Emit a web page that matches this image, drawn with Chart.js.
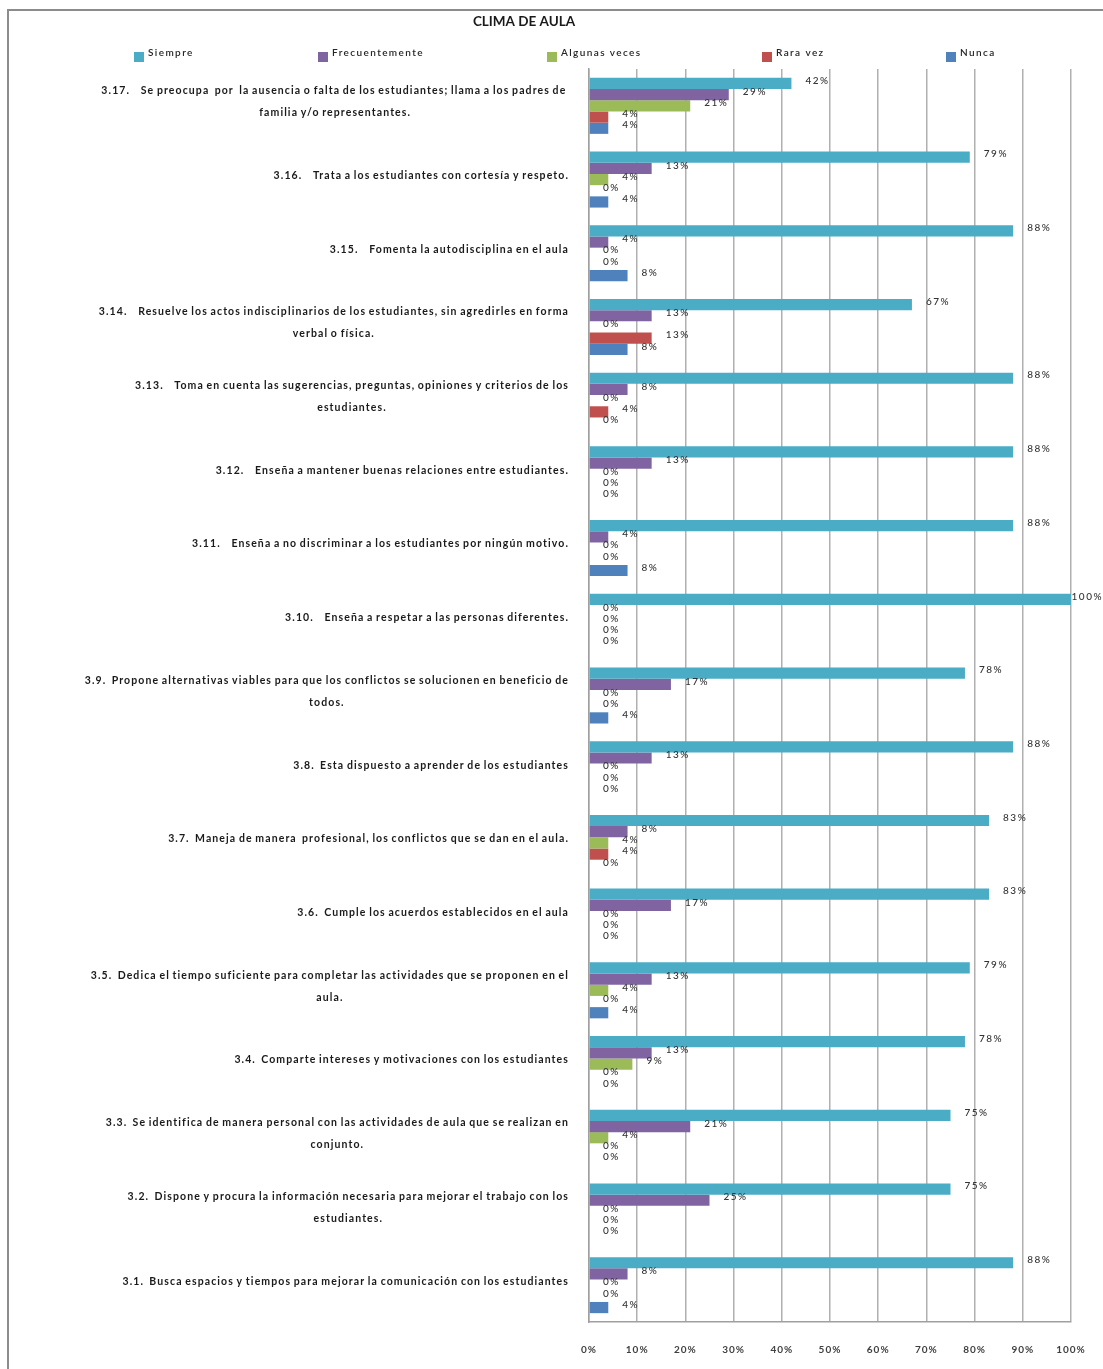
<!DOCTYPE html>
<html>
<head>
<meta charset="utf-8">
<script src="https://cdn.jsdelivr.net/npm/chart.js@4/dist/chart.umd.min.js"></script>
<style>
  html, body { margin: 0; padding: 0; background: #fff; overflow: hidden; }
  #wrap { position: relative; width: 1103px; height: 1369px; }
  #frame {
    position: absolute; left: 7px; top: 9px; width: 1200px; height: 1400px;
    border-top: 2px solid #8c8c8c; border-left: 2px solid #8c8c8c;
    pointer-events: none;
  }
</style>
</head>
<body>
<div id="wrap">
  <canvas id="chart" width="1103" height="1369"></canvas>
  <div id="frame"></div>
</div>
<script>
// Items of the "Clima de aula" survey, top to bottom
const items = [
  ["3.17.    Se preocupa  por  la ausencia o falta de los estudiantes; llama a los padres de ", "familia y/o representantes."],
  ["3.16.    Trata a los estudiantes con cortesía y respeto."],
  ["3.15.    Fomenta la autodisciplina en el aula"],
  ["3.14.    Resuelve los actos indisciplinarios de los estudiantes, sin agredirles en forma", "verbal o física."],
  ["3.13.    Toma en cuenta las sugerencias, preguntas, opiniones y criterios de los", "estudiantes."],
  ["3.12.    Enseña a mantener buenas relaciones entre estudiantes."],
  ["3.11.    Enseña a no discriminar a los estudiantes por ningún motivo."],
  ["3.10.    Enseña a respetar a las personas diferentes."],
  ["3.9.  Propone alternativas viables para que los conflictos se solucionen en beneficio de", "todos."],
  ["3.8.  Esta dispuesto a aprender de los estudiantes"],
  ["3.7.  Maneja de manera  profesional, los conflictos que se dan en el aula."],
  ["3.6.  Cumple los acuerdos establecidos en el aula"],
  ["3.5.  Dedica el tiempo suficiente para completar las actividades que se proponen en el", "aula."],
  ["3.4.  Comparte intereses y motivaciones con los estudiantes"],
  ["3.3.  Se identifica de manera personal con las actividades de aula que se realizan en", "conjunto."],
  ["3.2.  Dispone y procura la información necesaria para mejorar el trabajo con los", "estudiantes."],
  ["3.1.  Busca espacios y tiempos para mejorar la comunicación con los estudiantes"]
];

// Percentages per answer, same order as items
const siempre        = [42, 79, 88, 67, 88, 88, 88, 100, 78, 88, 83, 83, 79, 78, 75, 75, 88];
const frecuentemente = [29, 13,  4, 13,  8, 13,  4,   0, 17, 13,  8, 17, 13, 13, 21, 25,  8];
const algunasVeces   = [21,  4,  0,  0,  0,  0,  0,   0,  0,  0,  4,  0,  4,  9,  4,  0,  0];
const raraVez        = [ 4,  0,  0, 13,  4,  0,  0,   0,  0,  0,  4,  0,  0,  0,  0,  0,  0];
const nunca          = [ 4,  4,  8,  8,  0,  0,  8,   0,  4,  0,  0,  0,  4,  0,  0,  0,  4];

const seriesNames  = ["Siempre", "Frecuentemente", "Algunas veces", "Rara vez", "Nunca"];
const seriesColors = ["#4BACC6", "#8064A2", "#9BBB59", "#C0504D", "#4F81BD"];
const xTicks = [0, 10, 20, 30, 40, 50, 60, 70, 80, 90, 100];

const chartTitle = "CLIMA DE AULA";

const FONT = "Lato, 'Open Sans', sans-serif";
const PLOT_LEFT = 589;
const LABEL_RIGHT = 569;
const legendTextX = [148, 332, 561, 776, 960];

// Title, legend, wrapped category labels and value labels drawn on the canvas
const decorations = {
  id: 'decorations',
  beforeDraw(chart) {
    chart.ctx.letterSpacing = '1px';
  },
  afterDraw(chart) {
    const ctx = chart.ctx;
    const yScale = chart.scales.y;
    ctx.save();

    // title
    ctx.letterSpacing = '0px';
    ctx.font = "bold 13.5px " + FONT;
    ctx.fillStyle = '#1a1a1a';
    ctx.textAlign = 'center';
    ctx.textBaseline = 'middle';
    ctx.fillText(chartTitle, 524, 22);

    // legend
    ctx.font = "600 10px " + FONT;
    ctx.letterSpacing = '1.4px';
    ctx.textAlign = 'left';
    chart.data.datasets.forEach((ds, i) => {
      const tx = legendTextX[i];
      ctx.fillStyle = ds.backgroundColor;
      ctx.fillRect(tx - 14, 52, 10, 10);
      ctx.fillStyle = '#262626';
      ctx.fillText(ds.label, tx, 53);
    });

    // category labels: block right-aligned, lines centered within it
    ctx.font = "bold 10.5px " + FONT;
    ctx.letterSpacing = '1.1px';
    ctx.wordSpacing = '-1px';
    ctx.fillStyle = '#1a1a1a';
    ctx.textAlign = 'center';
    chart.data.labels.forEach((lines, i) => {
      const widths = lines.map(l => ctx.measureText(l).width);
      const blockW = Math.max(...widths);
      const cx = LABEL_RIGHT - blockW / 2;
      const cy = yScale.getPixelForTick(i) - 4;
      const y0 = cy - (lines.length - 1) * 11;
      lines.forEach((l, k) => ctx.fillText(l, cx, y0 + k * 22));
    });
    ctx.wordSpacing = '0px';

    // value labels to the right of each bar, kept inside the canvas
    ctx.font = "500 10px " + FONT;
    ctx.letterSpacing = '1.5px';
    ctx.fillStyle = '#333333';
    ctx.textAlign = 'left';
    chart.data.datasets.forEach((ds, di) => {
      const meta = chart.getDatasetMeta(di);
      meta.data.forEach((bar, j) => {
        const txt = ds.data[j] + '%';
        const w = ctx.measureText(txt).width;
        const x = Math.min(bar.x + 14, chart.width - w);
        ctx.fillText(txt, x, bar.y - 3);
      });
    });

    ctx.restore();
  }
};

const seriesData = [siempre, frecuentemente, algunasVeces, raraVez, nunca];

new Chart(document.getElementById('chart'), {
  type: 'bar',
  data: {
    labels: items,
    datasets: seriesNames.map((name, i) => ({
      label: name,
      data: seriesData[i],
      backgroundColor: seriesColors[i],
      borderWidth: 0,
      categoryPercentage: 0.76,
      barPercentage: 1.0
    }))
  },
  options: {
    indexAxis: 'y',
    responsive: false,
    animation: false,
    devicePixelRatio: 1,
    layout: { padding: { top: 69, right: 32, bottom: 0, left: 0 } },
    plugins: {
      legend: { display: false },
      title: { display: false },
      tooltip: { enabled: false }
    },
    scales: {
      x: {
        min: 0,
        max: 100,
        afterBuildTicks: (scale) => { scale.ticks = xTicks.map(v => ({ value: v })); },
        ticks: {
          callback: (v) => v + '%',
          font: { family: FONT, size: 10, weight: 'bold' },
          color: '#404040',
          padding: 22,
          maxRotation: 0
        },
        grid: { color: '#b0b0b0', lineWidth: 1.5, drawTicks: false },
        border: { display: true, color: '#a0a0a0', width: 1.5 },
        afterFit: (scale) => {
          scale.height = 47;
          scale.paddingLeft = 0;
          scale.paddingRight = 0;
        }
      },
      y: {
        ticks: { display: false },
        grid: { display: false, drawTicks: false },
        border: { display: true, color: '#a0a0a0', width: 1.5 },
        afterFit: (scale) => { scale.width = PLOT_LEFT; }
      }
    }
  },
  plugins: [decorations]
});
</script>
</body>
</html>
